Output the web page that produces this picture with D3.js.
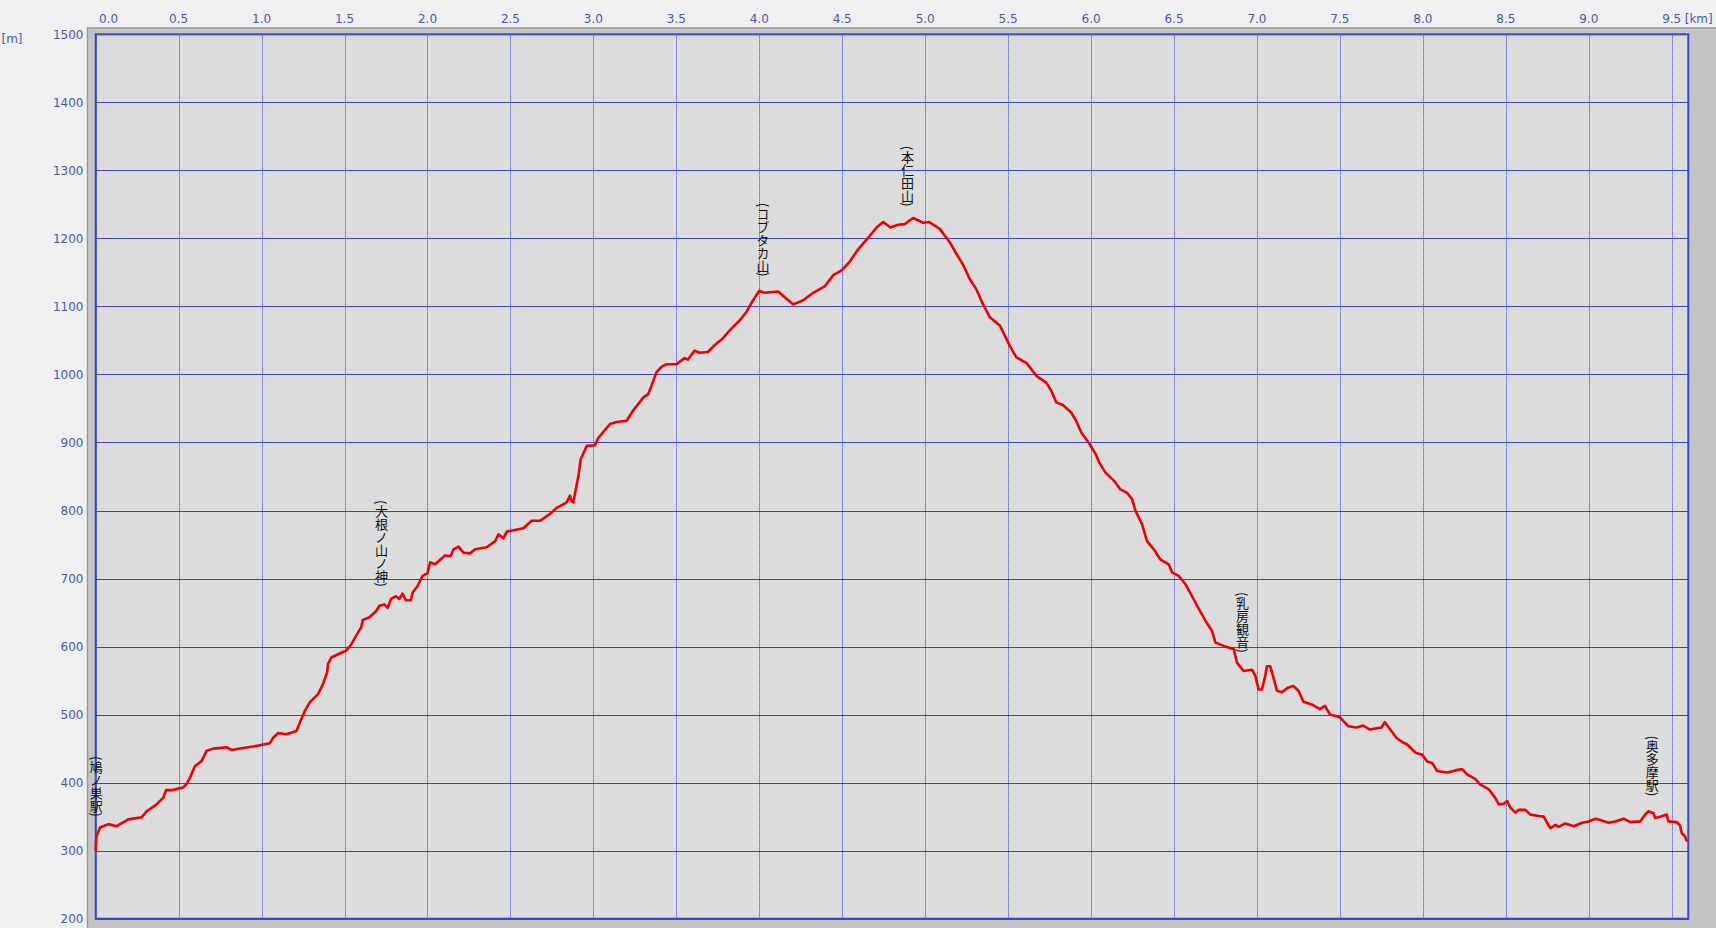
<!DOCTYPE html>
<html>
<head>
<meta charset="utf-8">
<script src="https://cdn.jsdelivr.net/npm/d3@7"></script>
<style>
  html, body { margin: 0; padding: 0; background: #f0f0f0; overflow: hidden; }
  svg { display: block; }
</style>
</head>
<body>
<svg id="chart" width="1716" height="928"></svg>
<script>
// ---- data ----
const distKm = [0.000,0.004,0.026,0.076,0.127,0.197,0.277,0.307,0.367,0.408,0.424,0.458,0.528,0.548,0.568,0.598,0.639,0.669,0.709,0.789,0.819,0.890,0.970,1.010,1.050,1.070,1.100,1.150,1.210,1.235,1.260,1.290,1.340,1.370,1.395,1.400,1.420,1.490,1.510,1.540,1.570,1.600,1.610,1.650,1.690,1.710,1.740,1.760,1.780,1.810,1.830,1.850,1.870,1.900,1.910,1.940,1.970,2.000,2.016,2.046,2.106,2.140,2.157,2.187,2.217,2.257,2.287,2.357,2.408,2.428,2.458,2.478,2.518,2.578,2.628,2.679,2.739,2.779,2.839,2.859,2.870,2.880,2.890,2.910,2.923,2.960,3.010,3.030,3.100,3.140,3.200,3.240,3.300,3.330,3.350,3.380,3.410,3.440,3.500,3.550,3.570,3.610,3.640,3.690,3.730,3.780,3.830,3.880,3.920,3.960,4.000,4.030,4.114,4.155,4.205,4.265,4.325,4.396,4.446,4.496,4.546,4.596,4.667,4.707,4.747,4.791,4.837,4.878,4.898,4.928,4.988,5.024,5.088,5.149,5.189,5.229,5.269,5.309,5.349,5.390,5.450,5.480,5.510,5.550,5.610,5.670,5.730,5.760,5.790,5.830,5.880,5.910,5.940,5.990,6.030,6.050,6.086,6.137,6.177,6.217,6.247,6.267,6.307,6.337,6.378,6.418,6.468,6.488,6.528,6.568,6.598,6.639,6.689,6.729,6.749,6.800,6.860,6.880,6.920,6.970,6.990,7.010,7.030,7.050,7.060,7.080,7.100,7.120,7.150,7.190,7.220,7.250,7.280,7.330,7.380,7.410,7.440,7.500,7.550,7.600,7.640,7.680,7.750,7.770,7.810,7.840,7.880,7.906,7.956,7.996,8.026,8.056,8.086,8.147,8.197,8.237,8.267,8.317,8.347,8.398,8.438,8.458,8.488,8.508,8.528,8.558,8.578,8.618,8.649,8.699,8.729,8.749,8.769,8.799,8.819,8.859,8.910,8.960,9.000,9.040,9.070,9.120,9.160,9.210,9.250,9.310,9.340,9.360,9.390,9.400,9.430,9.470,9.480,9.530,9.550,9.560,9.580,9.590];
const elevM = [301,320,334,339,336,346,349,358,368,378,389,389,393,398,407,424,432,447,450,452,448,451,454,456,458,466,473,471,476,491,505,518,530,545,562,574,584,592,594,603,616,628,639,643,652,660,662,657,670,674,670,678,668,668,679,689,704,708,724,721,734,733,743,747,738,737,743,746,755,765,759,769,771,774,785,785,795,804,812,822,813,812,826,851,875,895,896,907,927,930,932,947,966,971,983,1003,1011,1015,1015,1024,1022,1035,1032,1033,1043,1053,1067,1079,1091,1108,1123,1120,1122,1113,1103,1109,1120,1130,1146,1153,1166,1184,1204,1216,1224,1216,1220,1221,1225,1230,1223,1224,1214,1194,1177,1161,1140,1125,1103,1084,1072,1057,1042,1025,1017,998,988,976,959,955,944,932,915,898,882,870,856,844,831,826,817,800,780,755,743,728,721,709,704,692,679,660,638,623,606,601,596,576,564,566,557,537,537,557,571,571,554,535,533,540,542,535,519,515,508,513,500,496,483,481,484,478,481,489,476,466,459,456,444,441,431,429,417,415,418,420,412,405,397,390,377,368,369,373,363,356,360,360,353,351,350,341,333,338,335,340,336,341,343,347,345,341,343,347,342,343,353,358,355,348,350,353,343,342,337,326,321,315];

const waypointNames = ["(鳩ノ巣駅)", "(大根ノ山ノ神)", "(コブタカ山)", "(本仁田山)", "(乳房観音)", "(奥多摩駅)"];
const waypointKm    = [0.0, 1.72, 4.02, 4.89, 6.91, 9.38];
const waypointElev  = [338, 676, 1132, 1235, 579, 368];

const xTicks = [0.0,0.5,1.0,1.5,2.0,2.5,3.0,3.5,4.0,4.5,5.0,5.5,6.0,6.5,7.0,7.5,8.0,8.5,9.0,9.5];
const yTicks = [200,300,400,500,600,700,800,900,1000,1100,1200,1300,1400,1500];
const xMaxKm = 9.6;
const xUnit = "[km]";
const yUnit = "[m]";

// ---- drawing ----
const svg = d3.select("#chart");
const W = 1716, H = 928;
const L = 95.7, R = 1688.3, T = 34.3, B = 918.7;

const x = d3.scaleLinear().domain([0, xMaxKm]).range([L, R]);
const y = d3.scaleLinear().domain([200, 1500]).range([B, T]);

const blue = "#3b49c4";
const tickColor = "#4a58b0";

// outer grey panel (sunken frame)
svg.append("rect").attr("x", 87).attr("y", 27.5).attr("width", W - 87).attr("height", H - 27.5)
  .attr("fill", "#c4c4c4");
svg.append("line").attr("x1", 87.5).attr("x2", 87.5).attr("y1", 27.5).attr("y2", H)
  .attr("stroke", "#9a9a9a").attr("stroke-width", 1.5);
svg.append("line").attr("x1", 87).attr("x2", W).attr("y1", 28).attr("y2", 28)
  .attr("stroke", "#9a9a9a").attr("stroke-width", 1.5);

// plot background
svg.append("rect").attr("x", L).attr("y", T).attr("width", R - L).attr("height", B - T)
  .attr("fill", "#dcdcdc");

// horizontal grid (solid)
svg.append("g").selectAll("line").data(yTicks).join("line")
  .attr("x1", L).attr("x2", R)
  .attr("y1", d => Math.round(y(d)) + 0.5).attr("y2", d => Math.round(y(d)) + 0.5)
  .attr("stroke", blue).attr("stroke-width", 1);

// vertical grid (dotted)
svg.append("g").selectAll("line").data(xTicks).join("line")
  .attr("x1", d => Math.round(x(d)) + 0.5).attr("x2", d => Math.round(x(d)) + 0.5)
  .attr("y1", T).attr("y2", B)
  .attr("stroke", "#3440b0").attr("stroke-width", 1).attr("stroke-dasharray", "1,1");

// plot border
svg.append("rect").attr("x", L).attr("y", T).attr("width", R - L).attr("height", B - T)
  .attr("fill", "none").attr("stroke", blue).attr("stroke-width", 2);

// y tick labels
svg.append("g").selectAll("text").data(yTicks).join("text")
  .attr("x", 83.5).attr("y", d => y(d) + 4.4)
  .attr("text-anchor", "end")
  .attr("font-family", "DejaVu Sans, Verdana, sans-serif").attr("font-size", 12)
  .attr("fill", tickColor)
  .text(d => d);

// x tick labels
svg.append("g").selectAll("text").data(xTicks).join("text")
  .attr("x", (d, i) => i === 0 ? x(d) + 3.3 : x(d))
  .attr("y", 22.6)
  .attr("text-anchor", (d, i) => i === 0 ? "start" : "middle")
  .attr("font-family", "DejaVu Sans, Verdana, sans-serif").attr("font-size", 12)
  .attr("fill", tickColor)
  .text(d => d.toFixed(1));

// units
svg.append("text").attr("x", x(xTicks[xTicks.length - 1]) + 13).attr("y", 22.6)
  .attr("font-family", "DejaVu Sans, Verdana, sans-serif").attr("font-size", 12)
  .attr("fill", tickColor).text(xUnit);
svg.append("text").attr("x", 1.5).attr("y", 42.5)
  .attr("font-family", "DejaVu Sans, Verdana, sans-serif").attr("font-size", 12)
  .attr("fill", tickColor).text(yUnit);

// profile line
const pts = distKm.map((d, i) => [d, elevM[i]]);
const line = d3.line().x(d => x(d[0])).y(d => y(d[1]));
svg.append("path").datum(pts)
  .attr("d", line)
  .attr("fill", "none").attr("stroke", "#f00000").attr("stroke-width", 2.6)
  .attr("stroke-linejoin", "round").attr("stroke-linecap", "round");

// waypoint labels (vertical text)
svg.append("g").selectAll("text").data(waypointNames).join("text")
  .attr("x", (d, i) => x(waypointKm[i]) + 0.5)
  .attr("y", (d, i) => y(waypointElev[i]) - 8)
  .attr("text-anchor", "end")
  .attr("writing-mode", "vertical-rl")
  .style("text-orientation", "mixed")
  .attr("font-family", "Noto Sans CJK JP, sans-serif").attr("font-size", 13)
  .attr("fill", "#111")
  .text(d => d);
</script>
</body>
</html>
